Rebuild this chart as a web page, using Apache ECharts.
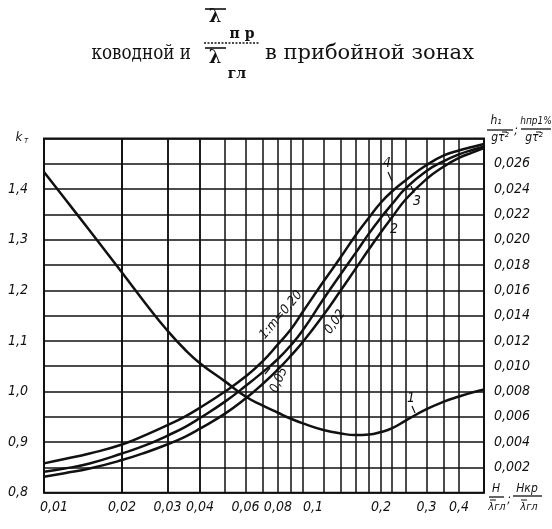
<!DOCTYPE html>
<html>
<head>
<meta charset="utf-8">
<script src="https://cdn.jsdelivr.net/npm/echarts@6/dist/echarts.min.js"></script>
<style>
html,body{margin:0;padding:0;background:#fff;}
#chart{width:552px;height:529px;}
</style>
</head>
<body>
<div id="chart"></div>
<script>
// ---- data ----
const xValues = [0.01, 0.012, 0.015, 0.02, 0.025, 0.03, 0.035, 0.04, 0.05, 0.06, 0.07, 0.08, 0.09, 0.1, 0.12, 0.14, 0.16, 0.18, 0.2, 0.22, 0.25, 0.3, 0.35, 0.4, 0.45, 0.5];
// curve 1: k_T (left axis)
const curve1 = [1.434, 1.382, 1.318, 1.235, 1.170, 1.120, 1.083, 1.056, 1.020, 0.990, 0.972, 0.958, 0.946, 0.937, 0.924, 0.917, 0.914, 0.915, 0.920, 0.927, 0.943, 0.965, 0.980, 0.990, 0.998, 1.004];
// curves 2,3,4 (right axis): i:m = 0.02, 0.05, 0.20
const curve2 = [0.00126, 0.00154, 0.00191, 0.00258, 0.00322, 0.00383, 0.00442, 0.00506, 0.00625, 0.00744, 0.00861, 0.00974, 0.01085, 0.01193, 0.01405, 0.0160, 0.01773, 0.01926, 0.02059, 0.02173, 0.02322, 0.0248, 0.02579, 0.02646, 0.02689, 0.02725];
const curve3 = [0.00166, 0.00191, 0.00231, 0.0031, 0.0038, 0.00452, 0.00519, 0.0059, 0.0072, 0.00843, 0.00954, 0.01057, 0.01168, 0.01286, 0.01531, 0.01729, 0.01898, 0.0205, 0.02175, 0.02278, 0.02409, 0.02543, 0.02622, 0.02674, 0.02709, 0.02737];
const curve4 = [0.00232, 0.00266, 0.0031, 0.00381, 0.00461, 0.00534, 0.00602, 0.00672, 0.0080, 0.00918, 0.0104, 0.01172, 0.01294, 0.01432, 0.01669, 0.01863, 0.02037, 0.02175, 0.02294, 0.02379, 0.02472, 0.0259, 0.02666, 0.02705, 0.02733, 0.02757];

// tick labels
const xTickValues = [0.01, 0.02, 0.03, 0.04, 0.06, 0.08, 0.1, 0.2, 0.3, 0.4];
const xTickLabels = ['0,01', '0,02', '0,03', '0,04', '0,06', '0,08', '0,1', '0,2', '0,3', '0,4'];
const xGridValues = [0.012, 0.014, 0.016, 0.018, 0.02, 0.025, 0.03, 0.035, 0.04, 0.05, 0.06, 0.07, 0.08, 0.09, 0.1, 0.12, 0.14, 0.16, 0.18, 0.2, 0.22, 0.25, 0.3, 0.35, 0.4];
const leftTickValues = [0.8, 0.9, 1.0, 1.1, 1.2, 1.3, 1.4];
const leftTickLabels = ['0,8', '0,9', '1,0', '1,1', '1,2', '1,3', '1,4'];
const rightTickValues = [0.002, 0.004, 0.006, 0.008, 0.010, 0.012, 0.014, 0.016, 0.018, 0.020, 0.022, 0.024, 0.026];
const rightTickLabels = ['0,002', '0,004', '0,006', '0,008', '0,010', '0,012', '0,014', '0,016', '0,018', '0,020', '0,022', '0,024', '0,026'];
const curveNames = ['1', '2', '3', '4'];
const slopeLabels = ['1:m=0,20', '0,05', '0,02'];

function pairs(ys){ return xValues.map((x,i)=>[x, ys[i]]); }
function lookup(vals, labs, v){
  for (let i=0;i<vals.length;i++){ if (Math.abs(vals[i]-v) <= Math.abs(vals[i])*1e-6 + 1e-9) return labs[i]; }
  return '';
}

const INK = '#111';
const tickFont = "'DejaVu Sans Condensed', 'DejaVu Sans', sans-serif";
const serif = "'DejaVu Serif', 'Liberation Serif', serif";

const chart = echarts.init(document.getElementById('chart'), null, {renderer:'canvas'});

const curveStyle = {color: INK, width: 2.5};

function t(x, y, text, font, align, valign, extra){
  return Object.assign({type:'text', x:x, y:y, silent:true, z:100,
    style:{text:text, font:font, fill:INK, textAlign:align||'center', textVerticalAlign:valign||'middle'}}, extra||{});
}
function ln(x1,y1,x2,y2,w,dash){
  return {type:'line', silent:true, z:100, shape:{x1:x1,y1:y1,x2:x2,y2:y2}, style:{stroke:INK, lineWidth:w||1.3, lineDash:dash||null}};
}

const smallIt = "italic 12px " + tickFont;
const graphics = [
  // title
  t(191, 54, 'ководной и', 'normal 21px ' + serif, 'right', 'middle', {scaleX: 0.8}),
  t(265, 54, 'в прибойной зонах', 'normal 21px ' + serif, 'left'),
  ln(205, 9, 226, 9, 1.6),
  t(215, 17, 'λ', 'bold 18px ' + serif),
  t(242, 34, 'п р', 'bold 14px ' + serif),
  ln(204, 43, 259, 43, 1.3, [2,1.5]),
  ln(205, 48, 226, 48, 1.6),
  t(215, 58, 'λ', 'bold 18px ' + serif),
  t(237, 74, 'гл', 'bold 14px ' + serif),
  // k_T
  t(19, 138, 'k', "italic 13px " + tickFont),
  t(26, 141, 'т', "italic 8px " + tickFont),
  // right axis name
  t(496, 121, 'h₁', smallIt),
  ln(487, 130, 513, 130, 1.3),
  t(500, 138, 'gτ²', smallIt),
  ln(502, 132, 507, 132, 1),
  t(516, 131, ';', smallIt),
  t(536, 121, 'hпр1%', "italic 10px " + tickFont),
  ln(521, 129, 551, 129, 1.3),
  t(534, 138, 'gτ²', smallIt),
  ln(536, 132, 541, 132, 1),
  // x axis name
  t(496, 489, 'H', smallIt),
  ln(489, 497, 504, 497, 1.3),
  t(497, 507, 'λгл', "italic 11px " + tickFont),
  ln(490, 500, 496, 500, 1),
  t(509, 500, ';', smallIt),
  t(527, 489, 'Hкр', smallIt),
  ln(513, 496, 542, 496, 1.3),
  t(529, 507, 'λгл', "italic 11px " + tickFont),
  ln(521, 500, 527, 500, 1),
  // curve labels
  t(411, 398, curveNames[0], "italic 14px " + tickFont),
  ln(412, 406, 415, 413, 1.2),
  t(394, 229, curveNames[1], "italic 14px " + tickFont),
  ln(386, 212, 390, 219, 1.2),
  t(417, 201, curveNames[2], "italic 14px " + tickFont),
  ln(411, 186, 414, 193, 1.2),
  t(387, 163, curveNames[3], "italic 14px " + tickFont),
  ln(388, 172, 392, 181, 1.2),
  t(281, 315, slopeLabels[0], "italic 13px " + tickFont, 'center', 'middle', {rotation: 0.87}),
  t(279, 380, slopeLabels[1], "italic 13px " + tickFont, 'center', 'middle', {rotation: 1.15}),
  t(335, 322, slopeLabels[2], "italic 13px " + tickFont, 'center', 'middle', {rotation: 0.95}),
  ln(265, 374, 270, 368, 1.2)
];

const lineBase = {type: 'line', smooth: 0.5, showSymbol: false, symbol: 'none', lineStyle: curveStyle, z: 5};

const option = {
  animation: false,
  backgroundColor: '#fff',
  grid: {left: 44, right: 68, top: 138.5, bottom: 36.3, show: true, borderColor: INK, borderWidth: 2, backgroundColor: 'transparent', containLabel: false},
  xAxis: {
    type: 'log', logBase: 10, min: 0.01, max: 0.5,
    axisLine: {show: false}, axisTick: {show: false}, splitLine: {show: false}, minorTick:{show:false}, minorSplitLine:{show:false},
    axisLabel: {
      customValues: xTickValues,
      showMinLabel: true, showMaxLabel: true, hideOverlap: false,
      margin: 8, color: INK, fontFamily: tickFont, fontStyle: 'italic', fontSize: 14,
      formatter: function(v){
        const s = lookup(xTickValues, xTickLabels, v);
        if (s === '0,01' || s === '0,1') return '{p|' + s + '}';
        return s;
      },
      rich: {p: {padding: [0,0,0,20], color: INK, fontFamily: tickFont, fontStyle: 'italic', fontSize: 14}}
    }
  },
  yAxis: [
    {
      type: 'value', position: 'left', min: 0.8, max: 1.5, interval: 0.05,
      axisLine: {show: false}, axisTick: {show: false}, splitLine: {show: false},
      axisLabel: {margin: 16, color: INK, fontFamily: tickFont, fontStyle: 'italic', fontSize: 14,
        formatter: function(v){ return lookup(leftTickValues, leftTickLabels, v); }}
    },
    {
      type: 'value', position: 'right', min: 0, max: 0.028, interval: 0.002,
      axisLine: {show: false}, axisTick: {show: false},
      splitLine: {show: true, lineStyle: {color: INK, width: 1.5}},
      axisLabel: {margin: 10, color: INK, fontFamily: tickFont, fontStyle: 'italic', fontSize: 14,
        formatter: function(v){ return lookup(rightTickValues, rightTickLabels, v); }}
    }
  ],
  series: [
    Object.assign({}, lineBase, {name: curveNames[0], yAxisIndex: 0, data: pairs(curve1),
     markLine: {silent: true, symbol: ['none','none'], label: {show: false}, animation:false,
       lineStyle: {type: 'solid', color: INK, width: 1.5}, data: xGridValues.map(v => ({xAxis: v}))}}),
    Object.assign({}, lineBase, {name: curveNames[1], yAxisIndex: 1, data: pairs(curve2)}),
    Object.assign({}, lineBase, {name: curveNames[2], yAxisIndex: 1, data: pairs(curve3)}),
    Object.assign({}, lineBase, {name: curveNames[3], yAxisIndex: 1, data: pairs(curve4)})
  ],
  graphic: graphics
};
chart.setOption(option);
</script>
</body>
</html>
